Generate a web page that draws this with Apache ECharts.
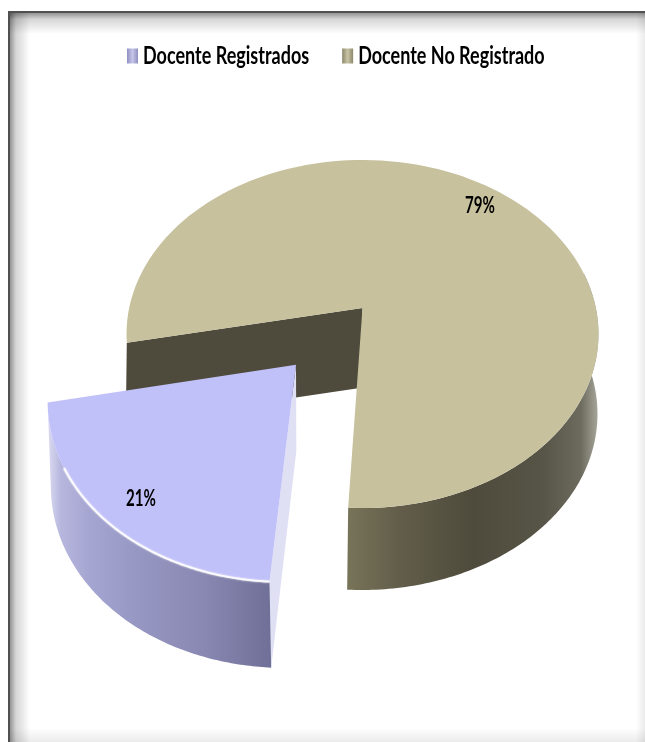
<!DOCTYPE html>
<html>
<head>
<meta charset="utf-8">
<style>html,body{margin:0;padding:0;background:#fff}#c{width:645px;height:742px}</style>
<script src="https://cdn.jsdelivr.net/npm/echarts@6/dist/echarts.min.js"></script>
</head>
<body>
<div id="c"></div>
<script>
var categories = ['Docente Registrados', 'Docente No Registrado'];
var shares = [21, 79];
var firstSliceAngle = 183;

var FONT = 'Lato,"Liberation Sans",sans-serif';
var PERSP = 0.149;
var SCALE = Math.sqrt(1 - PERSP * PERSP);
var total = shares.reduce(function (a, b) { return a + b; }, 0);

// Screen position of a rim point: t = degrees clockwise from the back of the pie.
function rim(g, t) {
  var r = t * Math.PI / 180, x = Math.sin(r), y = Math.cos(r);
  var d = 1 + PERSP * y;
  var px = x * SCALE / d, py = (y + PERSP) / d;
  return [g.cx + g.a * px + g.sh * py, g.cy - g.b * py];
}
function apex(g) { return [g.cx + g.sh * PERSP, g.cy - g.b * PERSP]; }
function arc(g, t0, t1) {
  var n = 120, out = [];
  for (var i = 0; i <= n; i++) out.push(rim(g, t0 + (t1 - t0) * i / n));
  return out;
}
function hGrad(stops) {
  return { type: 'linear', x: 0, y: 0, x2: 1, y2: 0, colorStops: stops.map(function (s) { return { offset: s[0], color: s[1] }; }) };
}

var beigeTop = { cx: 362.5, cy: 334, a: 236, b: 174, sh: 0 };
var beigeBase = { cx: 361.5, cy: 414, a: 236, b: 176, sh: 0 };
var blueTop = { cx: 294.5, cy: 393, a: 246.7, b: 189, sh: 10 };
var blueBase = { cx: 295, cy: 479, a: 244, b: 189, sh: 9 };

var blueWall = hGrad([[0, '#dcdcf2'], [0.06, '#b6b6de'], [0.18, '#a6a6d2'], [0.4, '#9797c3'], [0.7, '#8888b2'], [1, '#6f6f98']]);
var beigeWall = hGrad([[0, '#787459'], [0.2, '#625e4a'], [0.5, '#4f4b3c'], [0.78, '#575547'], [0.93, '#6c6b5e'], [1, '#a8a89c']]);

function labelEl(p, text) {
  return { type: 'text', x: p[0], y: p[1], scaleX: 0.84, scaleY: 1.28, z2: 10,
    style: { x: 0, y: 0, text: text, fill: '#000', font: 'bold 18px ' + FONT, textAlign: 'center', textVerticalAlign: 'middle' } };
}

function renderSlice(params, api) {
  var children = [];
  var value = api.value(0);
  if (params.seriesName === categories[0]) {
    var t0 = firstSliceAngle, t1 = t0 + value / total * 360;
    var aT = apex(blueTop), aB = apex(blueBase);
    var topArc = arc(blueTop, t0, t1), baseArc = arc(blueBase, t0, t1);
    children.push({ type: 'polygon', shape: { points: [aT, aB, rim(blueBase, t0), rim(blueTop, t0)] }, style: { fill: '#e0e0f4' } });
    children.push({ type: 'polygon', shape: { points: topArc.concat(baseArc.slice().reverse()) }, style: { fill: blueWall } });
    children.push({ type: 'polygon', shape: { points: [aT].concat(topArc) }, style: { fill: '#c1c1fa' } });
    children.push({ type: 'polyline', shape: { points: arc(blueTop, t0, t0 + 56) }, style: { stroke: '#ffffff', lineWidth: 2, fill: null, opacity: 0.85, shadowBlur: 2, shadowColor: '#ffffff' } });
    children.push(labelEl([141, 499], value + '%'));
  } else {
    var s0 = firstSliceAngle - value / total * 360, s1 = firstSliceAngle;
    var aT2 = apex(beigeTop), aB2 = apex(beigeBase);
    var topArc2 = arc(beigeTop, s0, s1);
    children.push({ type: 'polygon', shape: { points: arc(beigeTop, 78, s1).concat(arc(beigeBase, 78, s1).reverse()) }, style: { fill: beigeWall } });
    children.push({ type: 'polygon', shape: { points: [rim(beigeTop, s0), aT2, aB2, rim(beigeBase, s0)] }, style: { fill: '#4f4b3c' } });
    children.push({ type: 'polygon', shape: { points: [aT2].concat(topArc2) }, style: { fill: '#c7c19d' } });
    children.push(labelEl([480, 206], value + '%'));
  }
  return { type: 'group', children: children };
}

function frameRect(x, y, w, h, dirX, stops) {
  return { type: 'rect', silent: true, z: -1, shape: { x: x, y: y, width: w, height: h },
    style: { fill: { type: 'linear', x: 0, y: 0, x2: dirX ? 1 : 0, y2: dirX ? 0 : 1, colorStops: stops } } };
}
var edge = [{ offset: 0, color: 'rgba(0,0,0,0.42)' }, { offset: 0.3, color: 'rgba(0,0,0,0.16)' }, { offset: 1, color: 'rgba(0,0,0,0)' }];
var fade = [{ offset: 0, color: 'rgba(0,0,0,0)' }, { offset: 1, color: 'rgba(0,0,0,0.08)' }];

var blueIcon = hGrad([[0, '#8f8fc0'], [0.5, '#c6c6ea'], [1, '#8f8fc0']]);
var beigeIcon = hGrad([[0, '#8c876b'], [0.5, '#cbc5a7'], [1, '#8c876b']]);

var chart = echarts.init(document.getElementById('c'), null, { renderer: 'canvas' });
chart.setOption({
  animation: false,
  backgroundColor: '#ffffff',
  legend: {
    data: categories,
    top: 47,
    left: 127,
    padding: 0,
    itemWidth: 11,
    itemHeight: 15,
    itemGap: 33,
    icon: 'rect',
    textStyle: { fontFamily: FONT, fontWeight: 'bold', fontSize: 18, color: '#000', padding: [0, 0, 0, 0] }
  },
  graphic: [
    frameRect(10, 13, 20, 729, true, edge),
    frameRect(10, 13, 635, 21, false, edge),
    frameRect(636, 13, 9, 729, true, fade),
    frameRect(10, 728, 635, 14, false, fade),
    { type: 'rect', silent: true, z: -1, shape: { x: 8, y: 11, width: 637, height: 2 }, style: { fill: '#505050' } },
    { type: 'rect', silent: true, z: -1, shape: { x: 8, y: 11, width: 2, height: 731 }, style: { fill: '#505050' } }
  ],
  series: [
    { type: 'custom', name: categories[1], coordinateSystem: 'none', data: [shares[1]], itemStyle: { color: beigeIcon }, renderItem: renderSlice, silent: true, z: 2 },
    { type: 'custom', name: categories[0], coordinateSystem: 'none', data: [shares[0]], itemStyle: { color: blueIcon }, renderItem: renderSlice, silent: true, z: 3 }
  ]
});

// The reference's legend lettering is stretched vertically.
chart.getZr().storage.getRoots().forEach(function (root) {
  if (!root.traverse) return;
  root.traverse(function (el) {
    if (el.style && categories.indexOf(el.style.text) >= 0) {
      el.originX = el.style.x || 0;
      el.originY = el.style.y || 0;
      el.scaleY = 1.42;
      el.markRedraw();
    }
  });
});
</script>
</body>
</html>
